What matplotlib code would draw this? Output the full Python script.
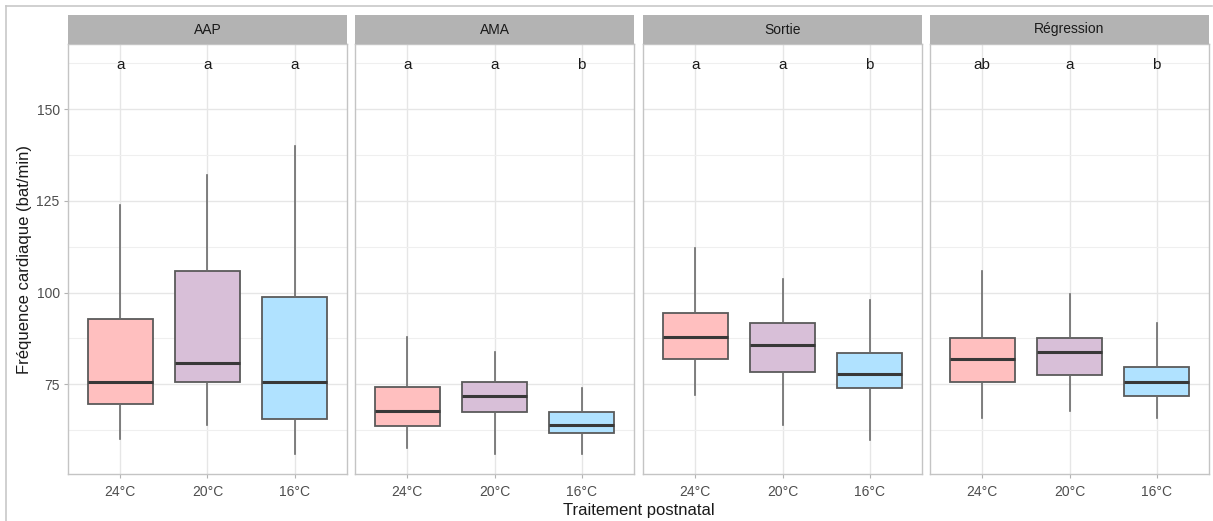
import matplotlib
matplotlib.use("Agg")
import matplotlib.pyplot as plt
from matplotlib.lines import Line2D

plt.rcParams["font.family"] = ["Liberation Sans", "DejaVu Sans"]

# ---- data ----
phases = ["AAP", "AMA", "Sortie", "Régression"]
treatments = ["24°C", "20°C", "16°C"]
colors = ["#FFBFBF", "#D8BFD8", "#B0E2FF"]

whislo = [[60, 64, 56], [57.7, 56, 56], [72, 64, 59.8], [65.8, 67.7, 65.8]]
q1 = [[69.6, 75.5, 65.5], [63.7, 67.5, 61.6], [81.8, 78.2, 73.9], [75.5, 77.5, 71.7]]
med = [[75.7, 80.7, 75.7], [67.8, 71.9, 64], [87.8, 85.8, 77.7], [82, 83.7, 75.7]]
q3 = [[92.8, 105.8, 98.7], [74.2, 75.5, 67.5], [94.4, 91.7, 83.6], [87.7, 87.7, 79.6]]
whishi = [[124, 132, 140], [87.8, 83.7, 73.9], [112.2, 103.8, 97.9], [105.9, 99.7, 91.7]]
letters = [["a", "a", "a"], ["a", "a", "b"], ["a", "a", "b"], ["ab", "a", "b"]]
letter_y = 162

yticks = [75, 100, 125, 150]
yminor = [62.5, 87.5, 112.5, 137.5, 162.5]
ylim = (50.5, 167.8)

W, H = 1213, 521
fig = plt.figure(figsize=(W / 100, H / 100), dpi=100)
fig.patch.set_facecolor("white")

panel_x = [68, 355, 643, 930]
panel_w = 279
top_px, bot_px, strip_top = 44, 474, 15

def fx(px):
    return px / W

def fy(py):
    return 1 - py / H

for i, ph in enumerate(phases):
    ax = fig.add_axes([fx(panel_x[i]), fy(bot_px), fx(panel_w), (bot_px - top_px) / H])
    stats = []
    for j in range(3):
        stats.append(dict(whislo=whislo[i][j], q1=q1[i][j], med=med[i][j],
                          q3=q3[i][j], whishi=whishi[i][j], fliers=[], label=treatments[j]))
    bp = ax.bxp(stats, positions=[1, 2, 3], widths=0.75, patch_artist=True,
                showcaps=False, showfliers=False,
                boxprops=dict(edgecolor="#5a5a5a", linewidth=1.3),
                medianprops=dict(color="#383838", linewidth=2.2),
                whiskerprops=dict(color="#6a6a6a", linewidth=1.2), zorder=3)
    for patch, c in zip(bp["boxes"], colors):
        patch.set_facecolor(c)
    for j in range(3):
        ax.text(j + 1, letter_y, letters[i][j], ha="center", va="center",
                fontsize=11, color="#1a1a1a", zorder=4)
    ax.set_xlim(0.4, 3.6)
    ax.set_ylim(*ylim)
    ax.set_yticks(yticks)
    ax.set_yticks(yminor, minor=True)
    ax.set_xticks([1, 2, 3])
    ax.set_xticklabels(treatments, fontsize=10, color="#4d4d4d")
    ax.grid(True, which="major", color="#e6e6e6", linewidth=1.0, zorder=0)
    ax.grid(True, which="minor", axis="y", color="#efefef", linewidth=0.8, zorder=0)
    ax.set_axisbelow(True)
    ax.tick_params(axis="x", length=3, color="#b3b3b3", pad=5)
    ax.tick_params(axis="y", which="major", length=3, color="#b3b3b3", labelsize=10,
                   labelcolor="#4d4d4d", pad=3)
    ax.tick_params(axis="y", which="minor", length=0)
    if i > 0:
        ax.tick_params(axis="y", which="major", length=0, labelleft=False)
    for s in ax.spines.values():
        s.set_color("#c4c4c4")
        s.set_linewidth(1.0)
    # strip
    sax = fig.add_axes([fx(panel_x[i]), fy(top_px), fx(panel_w), (top_px - strip_top) / H])
    sax.set_facecolor("#b3b3b3")
    sax.set_xticks([])
    sax.set_yticks([])
    for s in sax.spines.values():
        s.set_visible(False)
    sax.text(0.5, 0.5, ph, ha="center", va="center", fontsize=10, color="#1a1a1a",
             transform=sax.transAxes)

fig.text(fx(25), fy(259), "Fréquence cardiaque (bat/min)", rotation=90,
         ha="center", va="center", fontsize=12, color="#1a1a1a")
fig.text(fx(639), fy(510), "Traitement postnatal", ha="center", va="center",
         fontsize=12, color="#1a1a1a")

# outer screenshot border
fig.add_artist(Line2D([fx(6), fx(1212)], [fy(6), fy(6)], color="#c8c8c8", linewidth=1.2))
fig.add_artist(Line2D([fx(6), fx(6)], [fy(6), fy(521)], color="#c8c8c8", linewidth=1.2))

fig.savefig("out.png", dpi=100, facecolor="white")
